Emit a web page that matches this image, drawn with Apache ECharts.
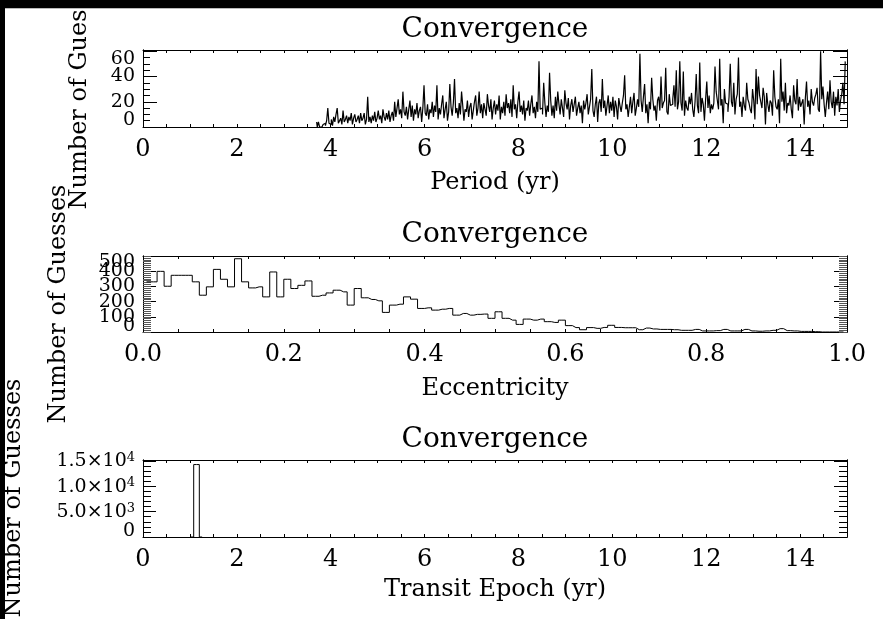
<!DOCTYPE html>
<html>
<head>
<meta charset="utf-8">
<script src="https://cdn.jsdelivr.net/npm/echarts@6/dist/echarts.min.js"></script>
<style>
html,body{margin:0;padding:0;background:#fff;}
#chart{width:883px;height:619px;}
</style>
</head>
<body>
<div id="chart"></div>
<script>
// ---------------- data ----------------
const CHART_TITLE = 'Convergence';
const Y_AXIS_NAME = 'Number of Guesses';
const X_AXIS_NAMES = ['Period (yr)', 'Eccentricity', 'Transit Epoch (yr)'];

// Period histogram: bin centres start at 3.700 yr, bins 0.025 yr wide (20 bins per row = 0.5 yr)
const PERIOD_FIRST_CENTER = 3.700;
const PERIOD_BIN_WIDTH = 0.025;
const PERIOD_COUNTS = [
  4, 0, 4, 0, 0, 0, 2, 3, 1, 5, 15, 3, 2, 6, 1, 8, 4, 10, 15, 3,          // 3.70
  5, 7, 2, 13, 4, 6, 9, 3, 8, 5, 11, 2, 7, 10, 4, 6, 9, 3, 11, 5,         // 4.20
  7, 11, 2, 6, 24, 4, 8, 3, 9, 5, 12, 4, 7, 13, 6, 9, 3, 14, 8, 5,        // 4.70
  11, 6, 13, 4, 9, 12, 5, 20, 8, 15, 22, 10, 14, 7, 28, 12, 9, 16, 6, 14, // 5.20
  21, 8, 17, 5, 14, 10, 19, 7, 13, 16, 4, 15, 33, 11, 9, 18, 6, 14, 11, 20, // 5.70
  8, 17, 12, 33, 6, 15, 10, 18, 25, 7, 14, 20, 5, 12, 34, 16, 9, 19, 38, 11, // 6.20
  15, 7, 19, 10, 28, 17, 5, 14, 12, 21, 8, 16, 19, 6, 13, 20, 25, 9, 15, 28, // 6.70
  11, 18, 7, 19, 14, 9, 26, 17, 12, 22, 6, 15, 21, 10, 18, 13, 25, 6, 16, 11, // 7.20
  20, 9, 26, 15, 19, 11, 22, 8, 33, 14, 18, 7, 20, 28, 12, 17, 10, 21, 5, 15, // 7.70
  13, 21, 9, 18, 25, 11, 16, 7, 20, 12, 52, 14, 15, 10, 35, 19, 8, 17, 12, 43, // 8.20
  21, 9, 17, 7, 24, 13, 28, 18, 10, 22, 15, 8, 29, 19, 14, 23, 6, 17, 22, 12, // 8.70
  18, 24, 9, 15, 20, 11, 17, 3, 21, 14, 19, 26, 10, 16, 22, 46, 13, 8, 18, 24, // 9.20
  4, 19, 22, 12, 38, 15, 21, 9, 17, 25, 11, 20, 13, 24, 8, 21, 16, 6, 23, 17, // 9.70
  12, 19, 25, 41, 14, 18, 8, 16, 24, 11, 20, 27, 9, 15, 22, 16, 58, 21, 12, 24, // 10.20
  34, 11, 18, 3, 20, 14, 39, 22, 13, 17, 5, 21, 24, 13, 40, 15, 19, 21, 47, 12, // 10.70
  10, 26, 17, 18, 22, 33, 16, 45, 14, 20, 52, 19, 13, 44, 9, 21, 15, 13, 24, 18, // 11.20
  27, 14, 8, 20, 42, 17, 11, 51, 12, 23, 18, 5, 22, 36, 15, 25, 11, 18, 14, 19, // 11.70
  48, 28, 21, 14, 54, 17, 22, 3, 30, 19, 18, 12, 24, 50, 20, 16, 35, 10, 22, 26, // 12.20
  55, 16, 20, 8, 24, 17, 13, 35, 22, 19, 14, 11, 30, 21, 6, 46, 18, 40, 25, 20, // 12.70
  15, 31, 24, 2, 27, 18, 12, 21, 19, 9, 45, 24, 16, 14, 22, 3, 54, 20, 28, 13, // 13.20
  35, 11, 19, 17, 25, 14, 7, 33, 21, 18, 38, 13, 24, 16, 19, 22, 2, 23, 36, 16, // 13.70
  21, 10, 30, 20, 17, 23, 26, 31, 14, 12, 60, 22, 32, 18, 8, 19, 28, 14, 37, 20, // 14.20
  15, 28, 9, 24, 17, 30, 12, 21, 26, 35, 18, 52                          // 14.70
];

// Eccentricity histogram: bin centres start at 0.005, bins 0.01 wide
const ECC_FIRST_CENTER = 0.005;
const ECC_BIN_WIDTH = 0.01;
const ECC_COUNTS = [
  330, 330, 399, 301, 373, 373, 373, 330, 242, 297,
  412, 347, 297, 482, 330, 290, 297, 231, 395, 231,
  347, 286, 307, 336, 235, 242, 257, 275, 264, 177,
  286, 225, 214, 205, 129, 177, 183, 231, 216, 155,
  159, 144, 150, 155, 111, 122, 111, 116, 118, 90,
  133, 90, 78, 50, 85, 78, 85, 68, 63, 78,
  42, 29, 15, 29, 24, 30, 44, 30, 28, 28,
  15, 26, 20, 17, 17, 15, 11, 11, 17, 7,
  7, 9, 17, 7, 7, 17, 7, 5, 7, 11,
  22, 9, 7, 4, 4, 2, 0, 0, 0, 0
];

// Transit epoch histogram (bin centres in yr, counts)
const EPOCH_CENTERS = [1.02, 1.14, 1.26];
const EPOCH_COUNTS = [0, 14300, 0];

// tick labels
const PERIOD_X_LABELS = [0, 2, 4, 6, 8, 10, 12, 14];
const ECC_X_LABELS = [0.0, 0.2, 0.4, 0.6, 0.8, 1.0];
const EPOCH_X_LABELS = [0, 2, 4, 6, 8, 10, 12, 14];
const PERIOD_Y_LABELS = [0, 20, 40, 60];
const ECC_Y_LABELS = [0, 100, 200, 300, 400, 500];
const EPOCH_Y_LABELS = [[0, '0', ''], [5000, '5.0×10', '3'], [10000, '1.0×10', '4'], [15000, '1.5×10', '4']];

// ---------------- chart ----------------
const FONT = 'DejaVu Serif';
const GRIDS = [
  {left: 143, right: 36, top: 50, height: 77},
  {left: 143, right: 36, top: 256, height: 76},
  {left: 143, right: 36, top: 460, height: 77}
];
const Y_PER_GRID = 5;

function near(a, b) { return Math.abs(a - b) < 1e-6; }
function listFormatter(list, digits) {
  return function (v) {
    for (const t of list) if (near(v, t)) return digits ? t.toFixed(digits) : String(t);
    return '';
  };
}

function makeXAxes(gridIndex, min, max, interval, labels, digits) {
  const base = {
    type: 'value', gridIndex: gridIndex, min: min, max: max, interval: interval,
    splitLine: {show: false},
    axisLine: {show: true, onZero: false, lineStyle: {color: '#000', width: 1}},
    axisTick: {show: true, inside: true, length: 3, lineStyle: {color: '#000', width: 1}}
  };
  return [
    Object.assign({}, base, {
      position: 'bottom',
      axisLabel: {show: true, margin: 11, color: '#000', fontFamily: FONT, fontSize: 24,
        hideOverlap: false, formatter: listFormatter(labels, digits)}
    }),
    Object.assign({}, base, {position: 'top', axisLabel: {show: false}})
  ];
}

function makeYAxes(gridIndex, min, max, major, minor, majorLen, minorLen, minorColor,
                   labelValues, formatter, rich) {
  const base = {
    type: 'value', gridIndex: gridIndex, min: min, max: max,
    splitLine: {show: false},
    axisLine: {show: true, onZero: false, lineStyle: {color: '#000', width: 1}}
  };
  const majorTick = {show: true, inside: true, length: majorLen, lineStyle: {color: '#000', width: 1}};
  const minorTick = {show: true, inside: true, length: minorLen, lineStyle: {color: minorColor, width: 1}};
  // labels split over two axes (alternating values) so that close labels are all drawn
  const setA = labelValues.filter(function (_, i) { return i % 2 === 0; });
  const setB = labelValues.filter(function (_, i) { return i % 2 === 1; });
  function lab(values) {
    return {show: true, margin: 8, color: '#000', fontFamily: FONT, fontSize: 19,
      hideOverlap: false, showMinLabel: true, showMaxLabel: true,
      customValues: values, formatter: formatter, rich: rich};
  }
  return [
    Object.assign({}, base, {position: 'left', interval: major, axisTick: majorTick, axisLabel: lab(setA)}),
    Object.assign({}, base, {position: 'left', interval: minor, axisTick: minorTick, axisLabel: {show: false}}),
    Object.assign({}, base, {position: 'right', interval: major, axisTick: majorTick, axisLabel: {show: false}}),
    Object.assign({}, base, {position: 'right', interval: minor, axisTick: minorTick, axisLabel: {show: false}}),
    Object.assign({}, base, {position: 'left', interval: major, axisLine: {show: false, onZero: false},
      axisTick: {show: false}, axisLabel: lab(setB)})
  ];
}

// lowest label nudged up and highest nudged down, as in the original plot
function simpleYFormatter(lo, hi) {
  return function (v) {
    if (near(v, lo)) return '{up|' + v + '}';
    if (near(v, hi)) return '{dn|' + v + '}';
    return '{n|' + v + '}';
  };
}
function yRich(upPad, dnPad) {
  return {
    n: {fontFamily: FONT, fontSize: 19, color: '#000'},
    up: {fontFamily: FONT, fontSize: 19, color: '#000', padding: [0, 0, upPad, 0]},
    dn: {fontFamily: FONT, fontSize: 19, color: '#000', padding: [dnPad, 0, 0, 0]}
  };
}

const xAxis = []
  .concat(makeXAxes(0, 0, 15, 0.5, PERIOD_X_LABELS, 0))
  .concat(makeXAxes(1, 0, 1, 0.05, ECC_X_LABELS, 1))
  .concat(makeXAxes(2, 0, 15, 0.5, EPOCH_X_LABELS, 0));

const yAxis = []
  .concat(makeYAxes(0, 0, 61, 20, 5, 14, 7, '#000', PERIOD_Y_LABELS,
    simpleYFormatter(0, 60), yRich(14, 16)))
  .concat(makeYAxes(1, 0, 500, 100, 12.5, 13, 8, '#555', ECC_Y_LABELS,
    simpleYFormatter(0, 500), yRich(12, 12)))
  .concat(makeYAxes(2, 0, 15200, 5000, 1000, 13, 8, '#000', EPOCH_Y_LABELS.map(function (e) { return e[0]; }),
    function (v) {
      for (const e of EPOCH_Y_LABELS) {
        if (near(v, e[0])) return e[2] ? '{m|' + e[1] + '}{s|' + e[2] + '}' : '{up|' + e[1] + '}';
      }
      return '';
    },
    {
      m: {fontFamily: FONT, fontSize: 19, color: '#000', lineHeight: 20, verticalAlign: 'bottom'},
      s: {fontFamily: FONT, fontSize: 13, color: '#000', lineHeight: 20, verticalAlign: 'top'},
      up: {fontFamily: FONT, fontSize: 19, color: '#000', padding: [0, 0, 12, 0]}
    }));

function histSeries(gridIndex, centers, counts, width) {
  return {
    type: 'line', xAxisIndex: gridIndex * 2, yAxisIndex: gridIndex * Y_PER_GRID,
    step: 'middle', symbol: 'none', showSymbol: false,
    lineStyle: {color: '#000', width: width},
    data: counts.map(function (c, i) { return [centers[i], c]; }),
    animation: false
  };
}
const periodCenters = PERIOD_COUNTS.map(function (_, i) { return PERIOD_FIRST_CENTER + i * PERIOD_BIN_WIDTH; });
const eccCenters = ECC_COUNTS.map(function (_, i) { return ECC_FIRST_CENTER + i * ECC_BIN_WIDTH; });

function textEl(str, x, y, size, rot) {
  return {
    type: 'text', x: x, y: y, rotation: rot || 0, z: 50,
    style: {text: str, fontFamily: FONT, fontSize: size, fill: '#000',
      align: 'center', verticalAlign: 'middle', textAlign: 'center', textVerticalAlign: 'middle'}
  };
}

const graphics = [
  textEl(CHART_TITLE, 495, 29.5, 28),
  textEl(CHART_TITLE, 495, 234.5, 28),
  textEl(CHART_TITLE, 495, 440, 28),
  textEl(X_AXIS_NAMES[0], 495, 183, 24),
  textEl(X_AXIS_NAMES[1], 495, 388.5, 24),
  textEl(X_AXIS_NAMES[2], 495, 589.5, 24),
  textEl(Y_AXIS_NAME, 80, 90, 24, Math.PI / 2),
  textEl(Y_AXIS_NAME, 59, 304, 24, Math.PI / 2),
  textEl(Y_AXIS_NAME, 14, 498, 24, Math.PI / 2),
  {type: 'rect', z: 100, shape: {x: 0, y: 0, width: 883, height: 8}, style: {fill: '#000'}},
  {type: 'rect', z: 100, shape: {x: 0, y: 8, width: 883, height: 1}, style: {fill: '#bbb'}},
  {type: 'rect', z: 100, shape: {x: 0, y: 0, width: 5, height: 619}, style: {fill: '#000'}}
];

const chart = echarts.init(document.getElementById('chart'), null, {renderer: 'canvas'});
chart.setOption({
  backgroundColor: '#fff',
  animation: false,
  grid: GRIDS.map(function (g) { return Object.assign({containLabel: false, outerBoundsMode: 'none'}, g); }),
  xAxis: xAxis,
  yAxis: yAxis,
  series: [
    histSeries(0, periodCenters, PERIOD_COUNTS, 1.2),
    histSeries(1, eccCenters, ECC_COUNTS, 1),
    histSeries(2, EPOCH_CENTERS, EPOCH_COUNTS, 1)
  ],
  graphic: {elements: graphics}
});
</script>
</body>
</html>
